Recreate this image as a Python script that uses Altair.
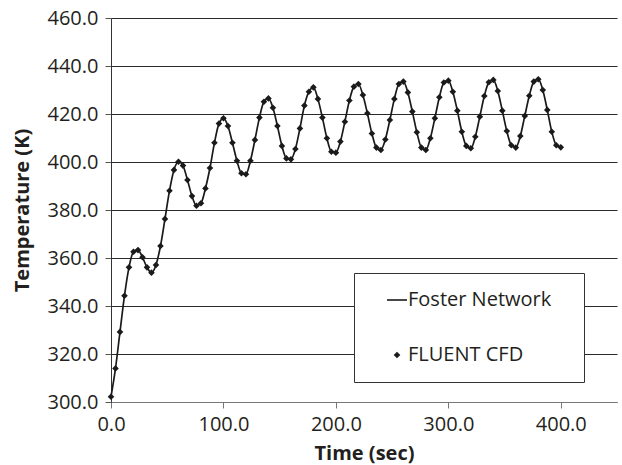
import altair as alt
import pandas as pd

# Time axis (s) – samples every 4 s
time_sec = [0, 4, 8, 12, 16, 20, 24, 28, 32, 36, 40, 44, 48, 52, 56, 60, 64, 68, 72, 76,
            80, 84, 88, 92, 96, 100, 104, 108, 112, 116, 120, 124, 128, 132, 136, 140, 144, 148, 152, 156,
            160, 164, 168, 172, 176, 180, 184, 188, 192, 196, 200, 204, 208, 212, 216, 220, 224, 228, 232, 236,
            240, 244, 248, 252, 256, 260, 264, 268, 272, 276, 280, 284, 288, 292, 296, 300, 304, 308, 312, 316,
            320, 324, 328, 332, 336, 340, 344, 348, 352, 356, 360, 364, 368, 372, 376, 380, 384, 388, 392, 396,
            400]

# FLUENT CFD temperatures (K)
fluent_cfd_temp = [302.2, 314.0, 329.2, 344.3, 356.1, 362.6, 363.3, 360.3, 356.1, 353.9,
                   357.1, 365.0, 376.3, 388.0, 396.7, 400.1, 398.5, 392.5, 385.8, 381.8,
                   382.8, 389.0, 397.5, 408.0, 416.0, 418.2, 415.0, 408.0, 400.5, 395.3,
                   394.9, 400.5, 409.2, 418.5, 425.1, 426.5, 422.6, 415.0, 406.7, 401.5,
                   401.1, 405.4, 414.0, 423.5, 429.3, 431.1, 426.3, 418.5, 409.9, 404.3,
                   403.9, 408.5, 416.8, 425.6, 431.4, 432.5, 427.9, 420.3, 411.9, 406.0,
                   405.0, 409.4, 417.5, 426.3, 432.5, 433.5, 429.0, 421.0, 412.4, 406.0,
                   405.0, 409.9, 418.2, 427.0, 433.1, 433.9, 429.3, 421.4, 412.6, 406.7,
                   405.7, 410.5, 418.9, 427.5, 433.2, 434.2, 429.6, 421.4, 412.9, 407.0,
                   406.0, 410.8, 419.2, 427.6, 433.5, 434.5, 430.0, 421.7, 412.6, 407.0,
                   406.1]

# Foster network curve (visually coincident with the CFD points)
foster_network_temp = [302.2, 314.0, 329.2, 344.3, 356.1, 362.6, 363.3, 360.3, 356.1, 353.9,
                       357.1, 365.0, 376.3, 388.0, 396.7, 400.1, 398.5, 392.5, 385.8, 381.8,
                       382.8, 389.0, 397.5, 408.0, 416.0, 418.2, 415.0, 408.0, 400.5, 395.3,
                       394.9, 400.5, 409.2, 418.5, 425.1, 426.5, 422.6, 415.0, 406.7, 401.5,
                       401.1, 405.4, 414.0, 423.5, 429.3, 431.1, 426.3, 418.5, 409.9, 404.3,
                       403.9, 408.5, 416.8, 425.6, 431.4, 432.5, 427.9, 420.3, 411.9, 406.0,
                       405.0, 409.4, 417.5, 426.3, 432.5, 433.5, 429.0, 421.0, 412.4, 406.0,
                       405.0, 409.9, 418.2, 427.0, 433.1, 433.9, 429.3, 421.4, 412.6, 406.7,
                       405.7, 410.5, 418.9, 427.5, 433.2, 434.2, 429.6, 421.4, 412.9, 407.0,
                       406.0, 410.8, 419.2, 427.6, 433.5, 434.5, 430.0, 421.7, 412.6, 407.0,
                       406.1]

series_names = ["Foster Network", "FLUENT CFD"]
y_ticks = [300, 320, 340, 360, 380, 400, 420, 440, 460]
x_ticks = [0, 100, 200, 300, 400]

foster_df = pd.DataFrame({"time": time_sec, "temp": foster_network_temp, "series": series_names[0]})
fluent_df = pd.DataFrame({"time": time_sec, "temp": fluent_cfd_temp, "series": series_names[1]})

FONT = "Open Sans"
INK = "#231f20"

x_enc = alt.X("time:Q", title="Time (sec)",
              scale=alt.Scale(domain=[0, 450], nice=False, zero=False),
              axis=alt.Axis(values=x_ticks, format=".1f", grid=False, tickSize=6,
                            labelFlush=False, labelPadding=6, titlePadding=9,
                            domainColor="#777", tickColor="#777"))
y_enc = alt.Y("temp:Q", title="Temperature (K)",
              scale=alt.Scale(domain=[300, 460], nice=False, zero=False),
              axis=alt.Axis(values=y_ticks, format=".1f", grid=True, gridColor="#2a2a2a",
                            gridWidth=1, tickSize=6, labelPadding=7, titlePadding=15,
                            labelFlush=False, domainColor="#333", tickColor="#555"))

line = alt.Chart(foster_df).mark_line(
    color="#1a1a1a", strokeWidth=1.7, interpolate="monotone"
).encode(x=x_enc, y=y_enc)

points = alt.Chart(fluent_df).mark_point(
    filled=True, color="#1a1a1a", size=400, opacity=1
).encode(
    x=x_enc, y=y_enc,
    shape=alt.Shape("series:N",
                    scale=alt.Scale(domain=series_names,
                                    range=["M-1,-0.08L1,-0.08L1,0.08L-1,0.08Z",
                                           "M0,-0.33L0.33,0L0,0.33L-0.33,0Z"]),
                    legend=alt.Legend(title=None, orient="none", legendX=243, legendY=255,
                                      padding=17, rowPadding=35, symbolSize=400,
                                      symbolOffset=16, labelLimit=400,
                                      symbolFillColor="#1a1a1a", symbolStrokeWidth=0,
                                      strokeColor="#333",
                                      fillColor="white", labelFont=FONT, labelFontSize=20,
                                      labelColor=INK, labelOffset=1,
                                      labelExpr="datum.label + '\u2800'"))
)

chart = alt.layer(line, points).properties(
    width=506, height=384,
    autosize=alt.AutoSizeParams(type="none"),
    padding={"left": 111, "top": 18, "right": 5, "bottom": 63},
    background="white",
).configure_view(stroke=None).configure_axis(
    labelFont=FONT, labelFontSize=20, labelColor=INK,
    titleFont=FONT, titleFontSize=20, titleFontWeight="bold", titleColor=INK,
)

chart.save("out.html", embed_options={"renderer": "svg", "actions": False})
